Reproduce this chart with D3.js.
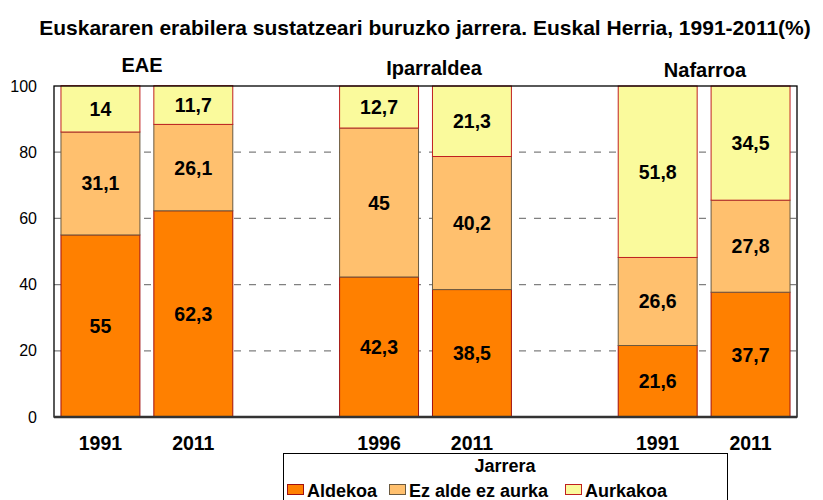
<!DOCTYPE html>
<html>
<head>
<meta charset="utf-8">
<script src="https://cdn.jsdelivr.net/npm/d3@7"></script>
<style>
  body { margin: 0; background: #fff; }
  svg { font-family: "Liberation Sans", Arial, sans-serif; }
</style>
</head>
<body>
<svg id="chart" width="823" height="500"></svg>
<script>
// data
var slots = ["EAE 1991", "EAE 2011", "gap1", "Ipar 1996", "Ipar 2011", "gap2", "Naf 1991", "Naf 2011"];
var yearLabels = ["1991", "2011", "", "1996", "2011", "", "1991", "2011"];
var aldekoa = [55, 62.3, null, 42.3, 38.5, null, 21.6, 37.7];
var ezAlde = [31.1, 26.1, null, 45, 40.2, null, 26.6, 27.8];
var aurkakoa = [14, 11.7, null, 12.7, 21.3, null, 51.8, 34.5];
var seriesNames = ["Aldekoa", "Ez alde ez aurka", "Aurkakoa"];
var colors = ["#ff8000", "#ffc06e", "#fafa9c"];
var strokes = ["#a01010", "#6b5a40", "#c02020"];
var groups = [
  { name: "EAE", x: 142, y: 72 },
  { name: "Iparraldea", x: 434, y: 75 },
  { name: "Nafarroa", x: 705, y: 77 }
];
var yTicks = [0, 20, 40, 60, 80, 100];

var svg = d3.select("#chart");
var plotLeft = 54, plotRight = 797, plotTop = 86, plotBottom = 417;

var x = d3.scaleBand().domain(slots).range([plotLeft, plotRight]).paddingInner(0.15).paddingOuter(0.075);
var y = d3.scaleLinear().domain([0, 100]).range([plotBottom, plotTop]);

svg.append("text")
  .attr("x", 425).attr("y", 35)
  .attr("text-anchor", "middle")
  .style("font-size", "21px").style("font-weight", "bold")
  .text("Euskararen erabilera sustatzeari buruzko jarrera. Euskal Herria, 1991-2011(%)");

// gridlines
svg.append("g").selectAll("line")
  .data([20, 40, 60, 80])
  .enter().append("line")
  .attr("x1", plotLeft).attr("x2", plotRight)
  .attr("y1", d => y(d)).attr("y2", d => y(d))
  .attr("stroke", "#808080").attr("stroke-width", 1.3)
  .attr("stroke-dasharray", "7,8");

var yAxis = svg.append("g")
  .attr("transform", "translate(" + plotLeft + ",0)")
  .call(d3.axisLeft(y).tickValues(yTicks).tickSize(0).tickPadding(17));
yAxis.select(".domain").remove();
yAxis.selectAll("text")
  .style("font-size", "16px")
  .style("font-family", "Liberation Sans, Arial, sans-serif")
  .attr("fill", "#000");

// stacked bars
var rows = slots.map(function (s, i) {
  return { slot: s, a: aldekoa[i], b: ezAlde[i], c: aurkakoa[i] };
}).filter(d => d.a != null);
var stack = d3.stack().keys(["a", "b", "c"])(rows);

stack.forEach(function (layer, k) {
  var g = svg.append("g");
  g.selectAll("rect")
    .data(layer)
    .enter().append("rect")
    .attr("x", d => x(d.data.slot))
    .attr("width", x.bandwidth())
    .attr("y", d => y(d[1]))
    .attr("height", d => y(d[0]) - y(d[1]))
    .attr("fill", colors[k])
    .attr("stroke", strokes[k])
    .attr("stroke-width", 1);
  g.selectAll("text")
    .data(layer)
    .enter().append("text")
    .attr("x", d => x(d.data.slot) + x.bandwidth() / 2)
    .attr("y", d => (y(d[0]) + y(d[1])) / 2 + 7)
    .attr("text-anchor", "middle")
    .style("font-size", "19.5px").style("font-weight", "bold")
    .text(d => String(d.data[layer.key]).replace(".", ","));
});

// frame
svg.append("rect")
  .attr("x", plotLeft).attr("y", plotTop)
  .attr("width", plotRight - plotLeft).attr("height", plotBottom - plotTop)
  .attr("fill", "none").attr("stroke", "#000").attr("stroke-width", 1.3);
svg.append("line")
  .attr("x1", plotLeft).attr("x2", plotRight).attr("y1", plotBottom).attr("y2", plotBottom)
  .attr("stroke", "#333").attr("stroke-width", 2.5);

// x labels
svg.append("g").selectAll("text")
  .data(slots)
  .enter().append("text")
  .attr("x", d => x(d) + x.bandwidth() / 2)
  .attr("y", 450)
  .attr("text-anchor", "middle")
  .style("font-size", "19.5px").style("font-weight", "bold")
  .text((d, i) => yearLabels[i]);

// group labels
svg.append("g").selectAll("text")
  .data(groups)
  .enter().append("text")
  .attr("x", d => d.x).attr("y", d => d.y)
  .attr("text-anchor", "middle")
  .style("font-size", "20px").style("font-weight", "bold")
  .text(d => d.name);

// legend
var lg = svg.append("g");
lg.append("rect")
  .attr("x", 283.5).attr("y", 453.5).attr("width", 444).attr("height", 60)
  .attr("fill", "#fff").attr("stroke", "#000").attr("stroke-width", 1);
lg.append("text")
  .attr("x", 505).attr("y", 472)
  .attr("text-anchor", "middle")
  .style("font-size", "18px").style("font-weight", "bold")
  .text("Jarrera");
var itemX = [287, 389, 565];
seriesNames.forEach(function (n, k) {
  lg.append("rect")
    .attr("x", itemX[k] + 0.5).attr("y", 484.5).attr("width", 16).attr("height", 10)
    .attr("fill", colors[k]).attr("stroke", strokes[k]);
  lg.append("text")
    .attr("x", itemX[k] + 20).attr("y", 497)
    .style("font-size", "18px").style("font-weight", "bold")
    .text(n);
});
</script>
</body>
</html>
